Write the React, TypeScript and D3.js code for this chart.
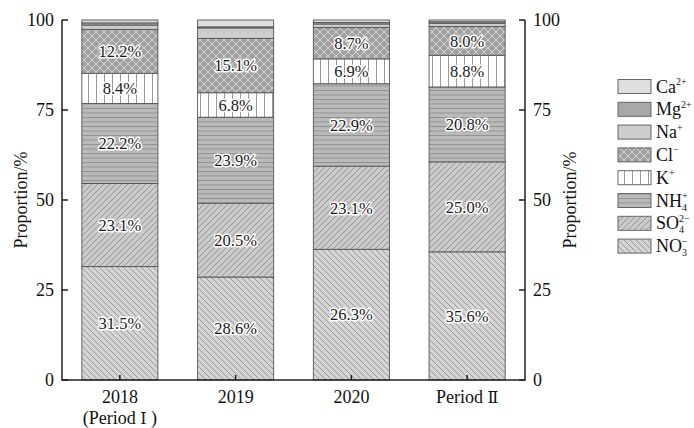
import React from 'react';
import * as d3 from 'd3';

const categories = ['2018', '2019', '2020', 'Period Ⅱ'];
const categorySubLabels = ['(Period Ⅰ )', '', '', ''];
const ionKeys = ['NO3', 'SO4', 'NH4', 'K', 'Cl', 'Na', 'Mg', 'Ca'];
const no3 = [31.5, 28.6, 36.3, 35.6];
const so4 = [23.1, 20.5, 23.1, 25.0];
const nh4 = [22.2, 23.9, 22.9, 20.8];
const kPlus = [8.4, 6.8, 6.9, 8.8];
const clMinus = [12.2, 15.1, 8.7, 8.0];
const naPlus = [1.2, 2.9, 1.0, 0.9];
const mg2 = [0.6, 0.3, 0.4, 0.4];
const ca2 = [0.8, 1.9, 0.7, 0.5];
// labels as printed in the source figure (2020 NO3 printed as 26.3%)
const no3Labels = ['31.5%', '28.6%', '26.3%', '35.6%'];
const labelledKeys = ['NO3', 'SO4', 'NH4', 'K', 'Cl'];
const yTicks = [0, 25, 50, 75, 100];

const seriesValues: Record<string, number[]> = {
  NO3: no3, SO4: so4, NH4: nh4, K: kPlus, Cl: clMinus, Na: naPlus, Mg: mg2, Ca: ca2,
};

const fills: Record<string, string> = {
  NO3: 'url(#pNO3)', SO4: 'url(#pSO4)', NH4: 'url(#pNH4)', K: 'url(#pK)',
  Cl: 'url(#pCl)', Na: '#cdcdcd', Mg: '#a8a8a8', Ca: '#dedede',
};

const FONT = '"Liberation Serif", "Times New Roman", serif';

function LegendLabel({ k, x, y }: { k: string; x: number; y: number }) {
  const fs = 18;
  const small = 10;
  const parts: Record<string, [string, string, string]> = {
    Ca: ['Ca', '2+', ''], Mg: ['Mg', '2+', ''], Na: ['Na', '+', ''], Cl: ['Cl', '−', ''],
    K: ['K', '+', ''], NH4: ['NH', '+', '4'], SO4: ['SO', '2−', '4'], NO3: ['NO', '−', '3'],
  };
  const [base, sup, sub] = parts[k];
  const supW = sup === '2+' || sup === '2−' ? 10.7 : 5.6;
  return (
    <text x={x} y={y} fontFamily={FONT} fontSize={fs} fill="#111">
      {base}
      <tspan fontSize={small} dy={-7.5}>{sup}</tspan>
      {sub ? <tspan fontSize={small} dx={-supW} dy={11.6}>{sub}</tspan> : null}
    </text>
  );
}

function CatLabel({ s, x, y }: { s: string; x: number; y: number }) {
  const pieces = s.split(/([ⅠⅡ])/);
  return (
    <text x={x} y={y} fontFamily={FONT} fontSize={18} fill="#111" textAnchor="middle">
      {pieces.map((p, i) =>
        p === 'Ⅰ' || p === 'Ⅱ' ? (
          <tspan key={i} fontFamily='"DejaVu Serif", serif' fontSize={16}>{p}</tspan>
        ) : (
          <tspan key={i}>{p}</tspan>
        )
      )}
    </text>
  );
}

export default function App() {
  const W = 694, H = 428;
  const x0 = 62, x1 = 525, yTop = 20, yBot = 380;
  const x = d3.scaleBand<string>().domain(categories).range([x0, x1]).paddingInner(0.343).paddingOuter(0.1715);
  const y = d3.scaleLinear().domain([0, 100]).range([yBot, yTop]);

  const rows = categories.map((c, i) => {
    const r: any = { cat: c };
    ionKeys.forEach((k) => (r[k] = seriesValues[k][i]));
    return r;
  });
  const stacked = d3.stack<any>().keys(ionKeys)(rows);

  const legendOrder = ['Ca', 'Mg', 'Na', 'Cl', 'K', 'NH4', 'SO4', 'NO3'];

  return (
    <svg width={W} height={H} style={{ position: 'absolute', left: 0, top: 0, background: '#fff' }}>
      <defs>
        <pattern id="pNO3" width={6} height={6} patternUnits="userSpaceOnUse">
          <rect width={6} height={6} fill="#d4d4d4" />
          <path d="M0,0 L6,6 M-1,5 L1,7 M5,-1 L7,1" stroke="#8a8a8a" strokeWidth={0.8} />
        </pattern>
        <pattern id="pSO4" width={6} height={6} patternUnits="userSpaceOnUse">
          <rect width={6} height={6} fill="#cacaca" />
          <path d="M0,6 L6,0 M-1,1 L1,-1 M5,7 L7,5" stroke="#8a8a8a" strokeWidth={0.8} />
        </pattern>
        <pattern id="pNH4" width={6} height={4.5} patternUnits="userSpaceOnUse">
          <rect width={6} height={4.5} fill="#bababa" />
          <path d="M0,0.5 L6,0.5" stroke="#8c8c8c" strokeWidth={0.9} />
        </pattern>
        <pattern id="pK" width={8} height={8} patternUnits="userSpaceOnUse">
          <rect width={8} height={8} fill="#ffffff" />
          <path d="M0.5,0 L0.5,8" stroke="#8c8c8c" strokeWidth={0.9} />
        </pattern>
        <pattern id="pCl" width={8} height={8} patternUnits="userSpaceOnUse">
          <rect width={8} height={8} fill="#a0a0a0" />
          <path d="M0,0 L8,8 M0,8 L8,0" stroke="#d4d4d4" strokeWidth={1} />
        </pattern>
      </defs>

      {stacked.map((s) => (
        <g key={s.key}>
          {s.map((d, i) => (
            <rect
              key={i}
              x={x(categories[i])}
              y={y(d[1])}
              width={x.bandwidth()}
              height={y(d[0]) - y(d[1])}
              fill={fills[s.key]}
              stroke="#555"
              strokeWidth={0.9}
            />
          ))}
        </g>
      ))}

      {stacked
        .filter((s) => labelledKeys.includes(s.key))
        .map((s) =>
          s.map((d, i) => {
            const txt = s.key === 'NO3' ? no3Labels[i] : seriesValues[s.key][i].toFixed(1) + '%';
            return (
              <text
                key={s.key + i}
                x={(x(categories[i]) as number) + x.bandwidth() / 2}
                y={(y(d[0]) + y(d[1])) / 2}
                dy="0.35em"
                textAnchor="middle"
                fontFamily={FONT}
                fontSize={16.5}
                fill="#1a1a1a"
                stroke="#fff"
                strokeWidth={3}
                paintOrder="stroke"
                strokeLinejoin="round"
              >
                {txt}
              </text>
            );
          })
        )}

      <g stroke="#222" strokeWidth={1.5} fill="none">
        <path d={`M${x0},${yTop} V${yBot} H${x1} V${yTop}`} />
        {yTicks.map((t) => (
          <path key={'l' + t} d={`M${x0},${y(t)} h6 M${x1},${y(t)} h-6`} />
        ))}
        {categories.map((c) => (
          <path key={'b' + c} d={`M${(x(c) as number) + x.bandwidth() / 2},${yBot} v-5`} />
        ))}
      </g>
      {yTicks.map((t) => (
        <g key={'tl' + t} fontFamily={FONT} fontSize={18} fill="#111">
          <text x={x0 - 8} y={y(t)} dy="0.35em" textAnchor="end">{t}</text>
          <text x={x1 + 8} y={y(t)} dy="0.35em" textAnchor="start">{t}</text>
        </g>
      ))}
      {categories.map((c, i) => (
        <g key={'xl' + c}>
          <CatLabel s={c} x={(x(c) as number) + x.bandwidth() / 2} y={403} />
          {categorySubLabels[i] ? (
            <CatLabel s={categorySubLabels[i]} x={(x(c) as number) + x.bandwidth() / 2} y={424} />
          ) : null}
        </g>
      ))}
      <text transform={`translate(21,${(yTop + yBot) / 2}) rotate(-90)`} textAnchor="middle" dy="0.35em" fontFamily={FONT} fontSize={18} fill="#111">Proportion/%</text>
      <text transform={`translate(570,${(yTop + yBot) / 2}) rotate(-90)`} textAnchor="middle" dy="0.35em" fontFamily={FONT} fontSize={18} fill="#111">Proportion/%</text>

      {legendOrder.map((k, i) => {
        const cy = 86.5 + i * 22.8;
        return (
          <g key={'lg' + k}>
            <rect x={618} y={cy - 7} width={33} height={14} fill={fills[k]} stroke="#666" strokeWidth={1} />
            <LegendLabel k={k} x={656} y={cy + 6} />
          </g>
        );
      })}
    </svg>
  );
}
